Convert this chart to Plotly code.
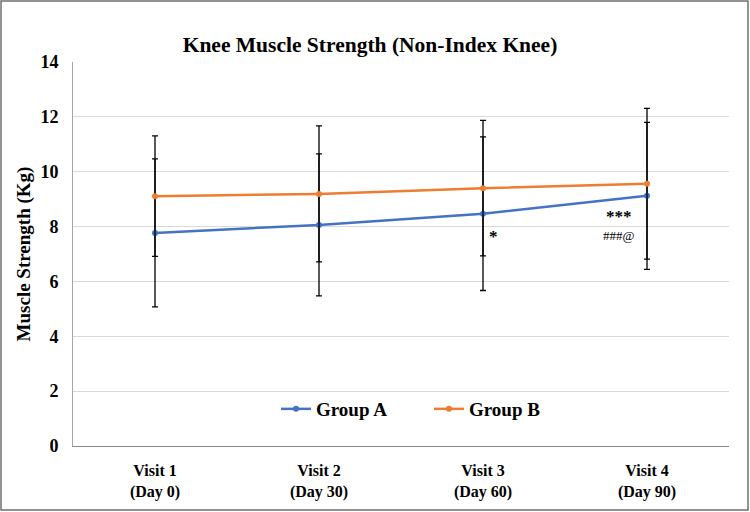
import plotly.graph_objects as go

visits = ["Visit 1<br>(Day 0)", "Visit 2<br>(Day 30)", "Visit 3<br>(Day 60)", "Visit 4<br>(Day 90)"]
group_a = [7.77, 8.06, 8.47, 9.12]
group_a_sd = [2.70, 2.59, 2.80, 2.68]
group_b = [9.11, 9.19, 9.40, 9.56]
group_b_sd = [2.20, 2.48, 2.47, 2.75]
y_ticks = [0, 2, 4, 6, 8, 10, 12, 14]

FONT = "Liberation Serif"
W, H = 750, 512
L, R, T, B = 73, 21, 62, 66
PW, PH = W - L - R, H - T - B

fig = go.Figure()
for name, vals, sd, col in [("Group A", group_a, group_a_sd, "#4472C4"),
                            ("Group B", group_b, group_b_sd, "#ED7D31")]:
    fig.add_trace(go.Scatter(
        x=visits, y=vals, name=name, mode="lines+markers",
        line=dict(color=col, width=2.5),
        marker=dict(color=col, size=6),
        error_y=dict(type="data", array=sd, visible=True, color="#000000", thickness=1.3, width=3),
    ))

fig.add_annotation(x=visits[2], y=7.62, text="*", showarrow=False, xshift=10,
                   font=dict(family=FONT, size=17, color="#000", weight="bold"))
fig.add_annotation(x=visits[3], y=8.35, text="***", showarrow=False, xshift=-28,
                   font=dict(family=FONT, size=17, color="#000", weight="bold"))
fig.add_annotation(x=visits[3], y=7.66, text="###@", showarrow=False, xshift=-28,
                   font=dict(family=FONT, size=13, color="#000"))

fig.add_shape(type="rect", xref="paper", yref="paper",
              x0=(1 - L) / PW, x1=(W - 2 - L) / PW,
              y0=-(H - 2 - (T + PH)) / PH, y1=(T + PH - 1) / PH,
              line=dict(color="#6f6f6f", width=1.5), fillcolor="rgba(0,0,0,0)", layer="below")

fig.update_layout(
    width=W, height=H,
    margin=dict(l=L, r=R, t=T, b=B),
    paper_bgcolor="white", plot_bgcolor="white",
    font=dict(family=FONT, color="#000"),
    title=dict(text="Knee Muscle Strength (Non-Index Knee)", x=370 / W, xanchor="center",
               xref="container", yref="container", y=1 - 44 / H, yanchor="middle",
               font=dict(family=FONT, size=21.5, color="#000", weight="bold")),
    legend=dict(orientation="h", x=(276 - L) / PW, xanchor="left", y=(446 - 409) / PH, yanchor="middle",
                font=dict(family=FONT, size=19, color="#000", weight="bold"),
                entrywidth=108, entrywidthmode="pixels", bgcolor="rgba(0,0,0,0)"),
    xaxis=dict(showgrid=False, showline=True, linecolor="#888888", linewidth=1.2,
               ticks="outside", ticklen=10, tickcolor="rgba(0,0,0,0)", range=[-0.5, 3.5],
               tickfont=dict(family=FONT, size=16, color="#000", weight="bold")),
    yaxis=dict(range=[0, 14], tickvals=y_ticks, showgrid=True, gridcolor="#d9d9d9", gridwidth=1,
               showline=True, linecolor="#a6a6a6", linewidth=1, zeroline=False,
               ticks="outside", ticklen=10, tickcolor="rgba(0,0,0,0)",
               tickfont=dict(family=FONT, size=18, color="#000", weight="bold"),
               title=dict(text="Muscle Strength (Kg)", standoff=4,
                          font=dict(family=FONT, size=19, color="#000", weight="bold"))),
)

fig.write_html("out.html")
